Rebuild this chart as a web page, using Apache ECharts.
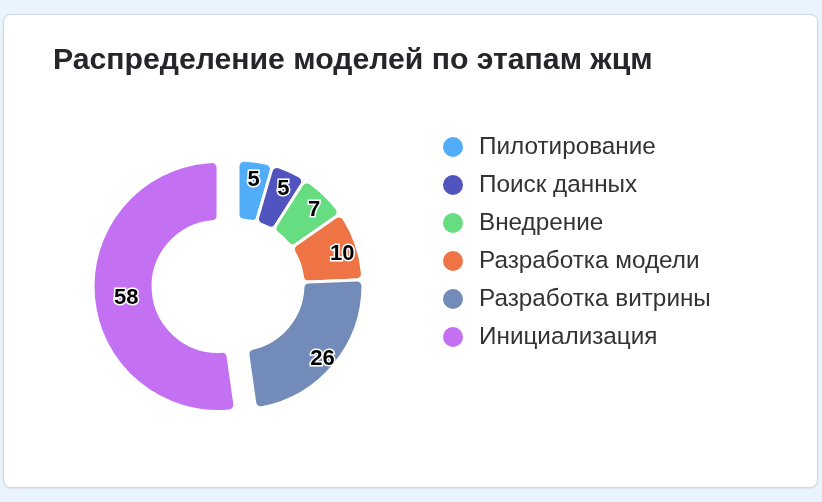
<!DOCTYPE html>
<html>
<head>
<meta charset="utf-8">
<script src="https://cdn.jsdelivr.net/npm/echarts@6/dist/echarts.min.js"></script>
<style>
  html, body { margin: 0; padding: 0; background: #eaf4fd; width: 822px; height: 502px; overflow: hidden; }
  #card { position: absolute; left: 3px; top: 14px; width: 813px; height: 472px; background: #fff;
          border: 1px solid #d3d9e1; border-radius: 8px; box-shadow: 0 1px 2px rgba(0,0,0,0.08); }
  #chart { position: absolute; left: 0; top: 0; width: 822px; height: 502px; }
</style>
</head>
<body>
<div id="card"></div>
<div id="chart"></div>
<script>
const titleText = 'Распределение моделей по этапам жцм';
const categories = ['Пилотирование', 'Поиск данных', 'Внедрение', 'Разработка модели', 'Разработка витрины', 'Инициализация'];
const values = [5, 5, 7, 10, 26, 58];
const colors = ['#52adf8', '#5153bf', '#66dd80', '#ee7446', '#728bb8', '#c470f2'];
const selectedName = 'Инициализация';

const FONT = '"Liberation Sans", Arial, Helvetica, sans-serif';
const labelStyle = {
  show: true,
  position: 'inside',
  formatter: '{c}',
  fontFamily: FONT,
  fontSize: 22,
  fontWeight: 'bold',
  color: '#000',
  textBorderColor: '#fff',
  textBorderWidth: 3
};

const mainData = categories.map((name, i) => ({
  name: name,
  value: values[i],
  selected: name === selectedName,
  itemStyle: { color: colors[i] },
  label: { show: name === selectedName }
}));
const labelData = categories.map((name, i) => ({
  name: name,
  value: values[i],
  label: { show: name !== selectedName }
}));

const chart = echarts.init(document.getElementById('chart'), null, { renderer: 'canvas' });
chart.setOption({
  animation: false,
  title: {
    text: titleText,
    left: 53,
    top: 46,
    padding: 0,
    textStyle: { fontFamily: FONT, fontSize: 30.2, fontWeight: 'bold', color: '#25262b' }
  },
  legend: {
    orient: 'vertical',
    left: 441,
    top: 135,
    padding: 0,
    icon: 'circle',
    itemWidth: 42,
    itemHeight: 22,
    itemGap: 14,
    data: categories,
    textStyle: { fontFamily: FONT, fontSize: 24.3, lineHeight: 24, color: '#333' }
  },
  series: [
    {
      type: 'pie',
      center: [238, 285],
      radius: [65, 125],
      startAngle: 90,
      clockwise: true,
      selectedMode: 'single',
      selectedOffset: 20,
      avoidLabelOverlap: false,
      itemStyle: { borderColor: '#fff', borderWidth: 3, borderRadius: 6 },
      label: labelStyle,
      labelLine: { show: false },
      labelLayout: { dx: 6, dy: 5 },
      emphasis: { disabled: true },
      data: mainData
    },
    {
      type: 'pie',
      center: [238, 285],
      radius: [87, 127],
      startAngle: 90,
      clockwise: true,
      silent: true,
      legendHoverLink: false,
      avoidLabelOverlap: false,
      itemStyle: { color: 'rgba(0,0,0,0)', borderWidth: 0 },
      label: labelStyle,
      labelLine: { show: false },
      labelLayout: { dy: 4 },
      emphasis: { disabled: true },
      data: labelData
    }
  ]
});
</script>
</body>
</html>
